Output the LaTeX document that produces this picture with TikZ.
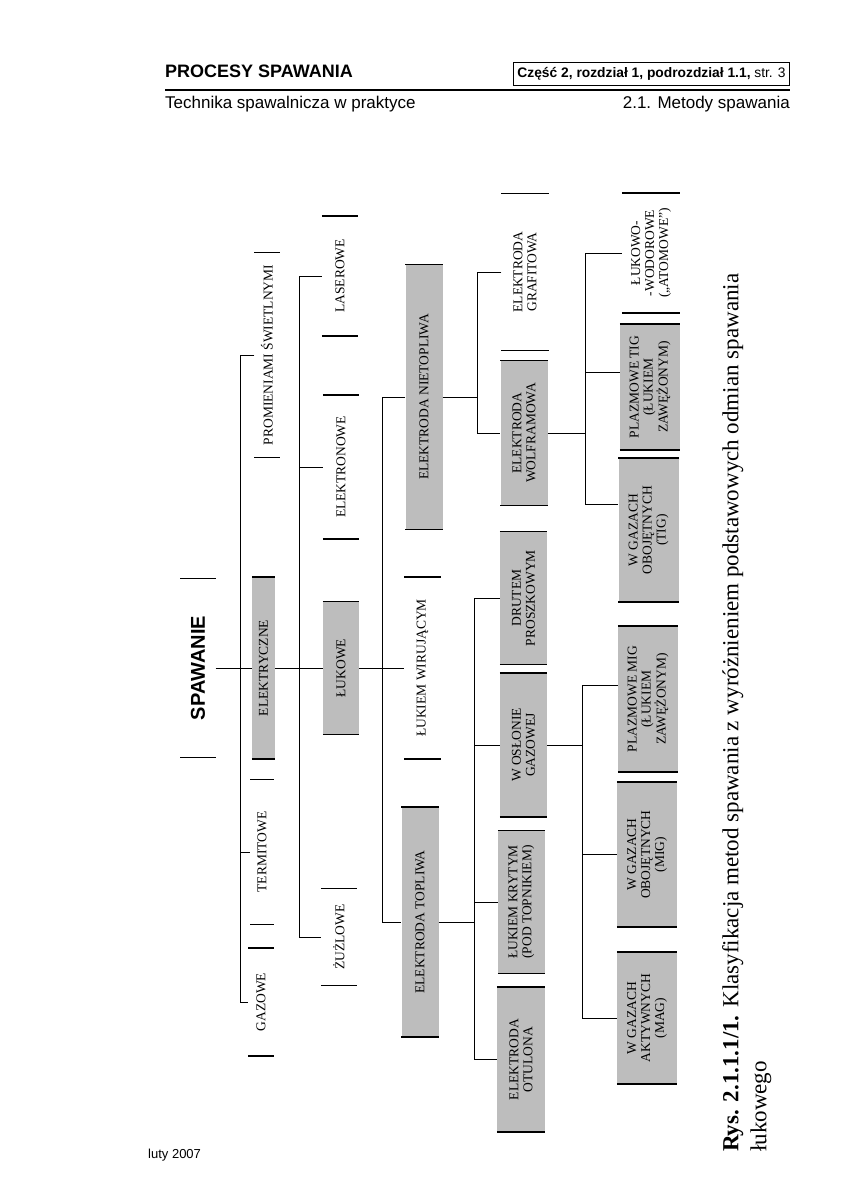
\documentclass[tikz,border=0pt]{standalone}
\usepackage{fontspec}
\setmainfont{Liberation Serif}
\setsansfont{Liberation Sans}
\definecolor{boxgray}{gray}{0.74}

\begin{document}
\begin{tikzpicture}[
    x=1pt, y=-1pt,
    lbl/.style={rotate=90, inner sep=0pt, align=center, font=\fontsize{13.5}{14}\selectfont},
    plain/.style={lbl},
    shaded/.style={lbl, fill=boxgray},
    sz/.style 2 args={minimum width=#1, minimum height=#2},
    root/.style={rotate=90, inner sep=0pt, font=\sffamily\bfseries\fontsize{20}{22}\selectfont},
    bar/.style={line width=1.5pt},
    link/.style={line width=1pt}
  ]
    \path[use as bounding box, fill=white] (0,0) rectangle (864,1188);

    % page head and foot
    \node[anchor=base west, inner sep=0pt, font=\sffamily\bfseries\fontsize{18}{20}\selectfont] (head) at (165,78) {PROCESY SPAWANIA};
    \node[draw, line width=0.8pt, anchor=base east, inner xsep=4pt, inner ysep=5pt, font=\sffamily\fontsize{13.8}{15}\selectfont] (part) at (790,78) {\textbf{Część 2, rozdział 1, podrozdział 1.1,} str. 3};
    \draw[line width=1.8pt] (165,90) -- (790,90);
    \node[anchor=base west, inner sep=0pt, font=\sffamily\fontsize{17}{19}\selectfont] (book) at (165,109) {Technika spawalnicza w praktyce};
    \node[anchor=base east, inner sep=0pt, font=\sffamily\fontsize{17}{19}\selectfont] (sect) at (790,109) {2.1. Metody spawania};
    \node[anchor=base west, inner sep=0pt, font=\sffamily\fontsize{13}{15}\selectfont] (date) at (148,1158) {luty 2007};

    % level 0 and 1
    \node[root, sz={179}{35}] (spaw) at (198,668) {SPAWANIE};
    \node[plain, sz={205}{25}] (prom) at (267,355) {PROMIENIAMI ŚWIETLNYMI};
    \node[shaded, sz={182}{23}] (elek) at (263.5,668) {ELEKTRYCZNE};
    \node[plain, sz={145}{23}] (term) at (262,852) {TERMITOWE};
    \node[plain, sz={108}{25}] (gaz) at (261,1002) {GAZOWE};

    % level 2
    \node[plain, sz={120}{36}] (lase) at (340,276) {LASEROWE};
    \node[plain, sz={144}{36}] (elro) at (341,467) {ELEKTRONOWE};
    \node[shaded, sz={133}{36}] (luk) at (341,668) {ŁUKOWE};
    \node[plain, sz={97}{36}] (zuz) at (339,937) {ŻUŻLOWE};

    % level 3
    \node[shaded, sz={265}{37}] (niet) at (424,397) {ELEKTRODA NIETOPLIWA};
    \node[plain, sz={182}{36}] (wir) at (422.5,668) {ŁUKIEM WIRUJĄCYM};
    \node[shaded, sz={230}{37}] (topl) at (420,922) {ELEKTRODA TOPLIWA};

    % level 4
    \node[plain, sz={157}{47}] (graf) at (525,272) {ELEKTRODA\\GRAFITOWA};
    \node[shaded, sz={145}{47}] (wolf) at (524,433) {ELEKTRODA\\WOLFRAMOWA};
    \node[shaded, sz={133}{47}] (drut) at (523.5,598) {DRUTEM\\PROSZKOWYM};
    \node[shaded, sz={144}{47}] (osl) at (523.5,745) {W OSŁONIE\\GAZOWEJ};
    \node[shaded, sz={143}{47}] (kryt) at (521.5,902) {ŁUKIEM KRYTYM\\(POD TOPNIKIEM)};
    \node[shaded, sz={145}{48}] (otul) at (521,1059.5) {ELEKTRODA\\OTULONA};

    % level 5
    \node[plain, sz={120}{58}] (atom) at (651,253) {ŁUKOWO-\\-WODOROWE\\(„ATOMOWE”)};
    \node[shaded, sz={126}{60}] (ptig) at (650,387) {PLAZMOWE TIG\\(ŁUKIEM\\ZAWĘŻONYM)};
    \node[shaded, sz={144}{60}] (tig) at (648.5,530) {W GAZACH\\OBOJĘTNYCH\\(TIG)};
    \node[shaded, sz={146}{60}] (pmig) at (648,699) {PLAZMOWE MIG\\(ŁUKIEM\\ZAWĘŻONYM)};
    \node[shaded, sz={145}{60}] (mig) at (647,854.5) {W GAZACH\\OBOJĘTNYCH\\(MIG)};
    \node[shaded, sz={132}{60}] (mag) at (647,1018) {W GAZACH\\AKTYWNYCH\\(MAG)};

    % end bars of every box
    \foreach \n in {spaw,prom,elek,term,gaz,lase,elro,luk,zuz,niet,wir,topl,graf,wolf,drut,osl,kryt,otul,atom,ptig,tig,pmig,mig,mag}
      \draw[bar] (\n.north west) -- (\n.south west) (\n.north east) -- (\n.south east);

    % bus lines
    \coordinate (busA) at (240,0);
    \coordinate (busB) at (299,0);
    \coordinate (busC) at (382,0);
    \coordinate (busD) at (477,0);
    \coordinate (busE) at (474,0);
    \coordinate (busF) at (585,0);
    \coordinate (busG) at (582,0);

    \draw[link] (spaw.south) -- (elek.north);
    \draw[link] (prom.north) -- (prom.north -| busA) -- (gaz.north -| busA) -- (gaz.north);
    \draw[link] (term.north -| busA) -- (term.north);

    \draw[link] (elek.south) -- (luk.north);
    \draw[link] (lase.north) -- (lase.north -| busB) -- (zuz.north -| busB) -- (zuz.north);
    \draw[link] (elro.north -| busB) -- (elro.north);

    \draw[link] (luk.south) -- (wir.north);
    \draw[link] (niet.north) -- (niet.north -| busC) -- (topl.north -| busC) -- (topl.north);

    \draw[link] (niet.south) -- (niet.south -| busD);
    \draw[link] (graf.north) -- (graf.north -| busD) -- (wolf.north -| busD) -- (wolf.north);

    \draw[link] (topl.south) -- (topl.south -| busE);
    \draw[link] (drut.north) -- (drut.north -| busE) -- (otul.north -| busE) -- (otul.north);
    \draw[link] (osl.north -| busE) -- (osl.north);
    \draw[link] (kryt.north -| busE) -- (kryt.north);

    \draw[link] (wolf.south) -- (wolf.south -| busF);
    \draw[link] (atom.north) -- (atom.north -| busF) -- (tig.50 -| busF) -- (tig.50);
    \draw[link] (ptig.65 -| busF) -- (ptig.65);

    \draw[link] (osl.south) -- (osl.south -| busG);
    \draw[link] (pmig.66) -- (pmig.66 -| busG) -- (mag.north -| busG) -- (mag.north);
    \draw[link] (mig.north -| busG) -- (mig.north);

    % caption
    \node[rotate=90, anchor=north west, align=left, inner sep=0pt, font=\fontsize{23}{28}\selectfont] (cap) at (722,1152) {\textbf{Rys. 2.1.1.1/1.} Klasyfikacja metod spawania z wyróżnieniem podstawowych odmian spawania\\łukowego};
  \end{tikzpicture}
\end{document}
